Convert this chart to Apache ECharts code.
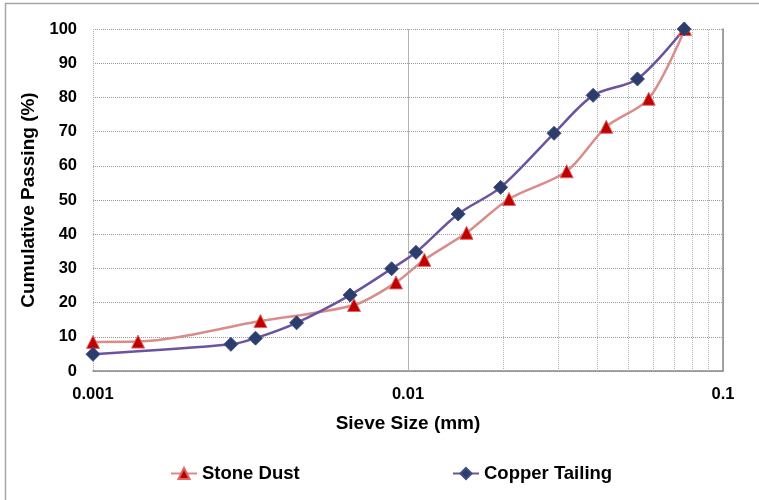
<!DOCTYPE html>
<html>
<head>
<meta charset="utf-8">
<script src="https://cdn.jsdelivr.net/npm/echarts@6/dist/echarts.min.js"></script>
<style>
  html, body { margin: 0; padding: 0; background: #fff; }
  #sieve_chart { width: 759px; height: 500px; }
</style>
</head>
<body>
<div id="sieve_chart"></div>
<script>
// grading curves
var stoneSize = [0.001, 0.00139, 0.0034, 0.00674, 0.00916, 0.01127, 0.01534, 0.02093, 0.0319, 0.0426, 0.0581, 0.0757];
var stonePassing = [8.5, 8.6, 14.6, 19.3, 25.9, 32.5, 40.4, 50.3, 58.4, 71.4, 79.6, 100];
var copperSize = [0.001, 0.00274, 0.00328, 0.00443, 0.00655, 0.00887, 0.0106, 0.01443, 0.01968, 0.02908, 0.0387, 0.0535, 0.0753];
var copperPassing = [4.9, 7.8, 9.6, 14.1, 22.2, 29.9, 34.7, 45.9, 53.7, 69.5, 80.6, 85.4, 100];
var minorTicks = [0.002, 0.003, 0.004, 0.005, 0.006, 0.007, 0.008, 0.009,
                  0.02, 0.03, 0.04, 0.05, 0.06, 0.07, 0.08, 0.09];

var dom = document.getElementById("sieve_chart");
var myChart = echarts.init(dom);
var option;

function pairs(xs, ys) {
    return xs.map(function (x, i) { return [x, ys[i]]; });
}

var font = "'Liberation Sans', Arial, sans-serif";

option = {
    backgroundColor: '#fff',
    textStyle: { fontFamily: font },
    graphic: [{
        type: 'rect',
        shape: { x: 5.5, y: 3.5, width: 800, height: 600 },
        style: { fill: 'none', stroke: '#a6a6a6', lineWidth: 1.5 },
        silent: true
    }],
    legend: [
        {
            left: 165, top: 459,
            itemWidth: 26, itemHeight: 14, itemGap: 5,
            textStyle: { fontSize: 18.5, fontWeight: 'bold', color: '#000', fontFamily: font },
            data: ['Stone Dust']
        },
        {
            left: 447, top: 459,
            itemWidth: 26, itemHeight: 14, itemGap: 5,
            textStyle: { fontSize: 18.5, fontWeight: 'bold', color: '#000', fontFamily: font },
            data: ['Copper Tailing']
        }
    ],
    grid: {
        left: 93,
        right: 36,
        top: 29,
        bottom: 129
    },
    xAxis: {
        type: 'log',
        logBase: 10,
        min: 0.001,
        max: 0.1,
        name: 'Sieve Size (mm)',
        nameLocation: 'middle',
        nameGap: 43,
        nameTextStyle: { fontSize: 19, fontWeight: 'bold', color: '#000', fontFamily: font },
        axisLine: { lineStyle: { color: '#888', width: 1.5 } },
        axisTick: { show: false },
        axisLabel: {
            margin: 15,
            fontSize: 16.5, fontWeight: 'bold', color: '#000', fontFamily: font,
            formatter: function (v) { return String(v); }
        },
        splitLine: { show: true, lineStyle: { color: '#b0b0b0', type: 'dotted', width: 1 } }
    },
    yAxis: [
        {
            type: 'value',
            min: 0,
            max: 100,
            interval: 10,
            name: 'Cumulative Passing (%)',
            nameLocation: 'middle',
            nameGap: 52,
            nameTextStyle: { fontSize: 19, fontWeight: 'bold', color: '#000', fontFamily: font },
            axisLine: { show: false },
            axisTick: { show: false },
            axisLabel: { margin: 16, fontSize: 16.5, fontWeight: 'bold', color: '#000', fontFamily: font },
            splitLine: { show: true, lineStyle: { color: '#9a9a9a', type: 'dotted', width: 1 } }
        },
        {
            type: 'value',
            position: 'right',
            min: 0,
            max: 100,
            interval: 10,
            axisLine: { show: true, lineStyle: { color: '#888', width: 1.5 } },
            axisTick: { show: false },
            axisLabel: { show: false },
            splitLine: { show: false }
        }
    ],
    series: [
        {
            name: 'Stone Dust',
            type: 'line',
            smooth: 0.3,
            symbol: 'triangle',
            symbolSize: 13,
            lineStyle: { color: '#d98c8a', width: 2.5 },
            itemStyle: { color: '#c00000', borderColor: '#e06666', borderWidth: 1 },
            data: pairs(stoneSize, stonePassing),
            markLine: {
                silent: true,
                z: 1,
                symbol: 'none',
                label: { show: false },
                lineStyle: { color: '#b4b4b4', type: 'dotted', width: 1 },
                emphasis: { disabled: true },
                data: minorTicks.map(function (v) { return { xAxis: v }; })
            }
        },
        {
            name: 'Copper Tailing',
            type: 'line',
            smooth: 0.3,
            symbol: 'diamond',
            symbolSize: 14,
            lineStyle: { color: '#6a54a0', width: 2.5 },
            itemStyle: { color: '#2c3d6b', borderColor: '#3e4f80', borderWidth: 1 },
            data: pairs(copperSize, copperPassing)
        }
    ]
};

if (option && typeof option === 'object') {
    myChart.setOption(option);
}
</script>
</body>
</html>
